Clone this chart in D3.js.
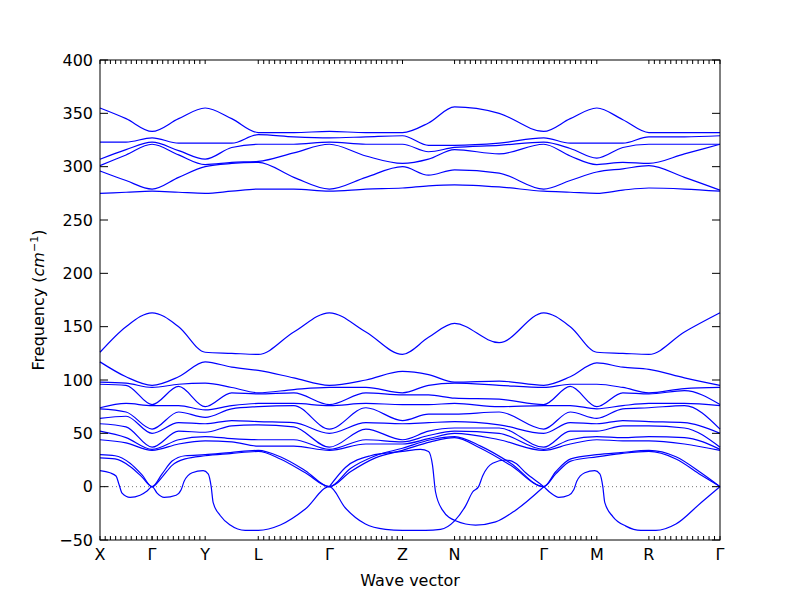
<!DOCTYPE html>
<html>
<head>
<meta charset="utf-8">
<script src="https://cdn.jsdelivr.net/npm/d3@7"></script>
<style>
  body { margin: 0; background: #fff; }
  text { font-family: "DejaVu Sans", sans-serif; }
</style>
</head>
<body>
<svg id="chart" width="800" height="600"></svg>
<script>
// High-symmetry points along the path (path distance)
const kLabels = ['X', 'Γ', 'Y', 'L', 'Γ', 'Z', 'N', 'Γ', 'M', 'R', 'Γ'];
const kTicks = [0, 0.52, 1.05, 1.58, 2.29, 3.02, 3.54, 4.43, 4.96, 5.48, 6.19];
// segments carrying small q-point ticks
const tickedSegments = [0, 1, 3, 4, 6, 7, 9];
const yTicks = [-50, 0, 50, 100, 150, 200, 250, 300, 350, 400];

// sample positions: each high-symmetry point and each segment midpoint
const kSamples = [0, 0.26, 0.52, 0.785, 1.05, 1.315, 1.58, 1.935, 2.29, 2.655, 3.02,
  3.28, 3.54, 3.985, 4.43, 4.695, 4.96, 5.22, 5.48, 5.835, 6.19];

// optical bands (cm^-1), sorted at each sample position
const gammaHigh = [333, 327, 323, 321, 279, 277];
const highBands = [
  [355, 323, 307, 301, 296, 275],
  [345, 323, 316, 311, 287, 276],
  gammaHigh,
  [345, 322, 315, 311, 290, 276],
  [355, 322, 307, 302, 300, 275],
  [345, 322, 318, 304, 303, 277],
  [332, 330, 321, 305, 304, 279],
  [332, 328, 321, 313, 290, 279],
  gammaHigh,
  [332, 328, 321, 310, 290, 279],
  [332, 329, 321, 303, 300, 280],
  [341, 320, 314, 307, 292, 282],
  [356, 320, 318, 316, 297, 283],
  [350, 322, 320, 312, 294, 281],
  gammaHigh,
  [345, 322, 317, 310, 287, 276],
  [355, 322, 308, 302, 295, 275],
  [344, 322, 318, 304, 298, 278],
  [332, 328, 321, 303, 301, 280],
  [332, 328, 321, 312, 290, 279],
  [332, 329, 321, 321, 278, 277]
];
const gammaLow = [163, 95, 93, 77, 76, 54, 50, 37, 35, 34];
const lowBands = [
  [126, 117, 98, 96, 74, 73, 64, 59, 52, 44],
  [150, 103, 97, 95, 78, 70, 66, 56, 46, 41],
  gammaLow,
  [150, 103, 96, 94, 76, 70, 60, 52, 44, 40],
  [126, 117, 97, 75, 72, 65, 59, 51, 47, 43],
  [125, 112, 93, 88, 76, 73, 62, 57, 45, 42],
  [124, 109, 88, 87, 78, 75, 61, 58, 44, 38],
  [145, 102, 91, 88, 78, 76, 60, 56, 44, 38],
  gammaLow,
  [145, 100, 93, 88, 78, 74, 60, 54, 44, 40],
  [124, 108, 88, 86, 77, 62, 59, 44, 42, 40],
  [140, 105, 95, 86, 77, 68, 60, 52, 48, 45],
  [153, 98, 97, 83, 78, 68, 61, 55, 52, 50],
  [135, 99, 95, 82, 75, 70, 58, 55, 50, 44],
  gammaLow,
  [150, 103, 96, 94, 76, 70, 60, 52, 44, 40],
  [126, 116, 96, 75, 73, 64, 59, 52, 47, 44],
  [125, 112, 93, 88, 76, 73, 62, 57, 46, 43],
  [124, 110, 88, 87, 78, 74, 61, 57, 47, 43],
  [145, 102, 92, 90, 78, 76, 60, 55, 46, 40],
  gammaLow
];

// acoustic-like branches traced individually: [k, freq]
const acousticP = [[0, 15], [0.10, 13], [0.16, 10], [0.19, 2], [0.22, -6], [0.30, -10], [0.40, -8],
  [0.47, -4], [0.52, 0], [0.57, -6], [0.64, -10], [0.76, -8], [0.81, -3], [0.84, 5], [0.92, 13],
  [1.03, 15], [1.08, 12], [1.11, 0], [1.13, -15], [1.20, -27], [1.30, -36], [1.45, -41], [1.58, -41],
  [1.80, -36], [2.05, -21], [2.29, 0], [2.45, -20], [2.65, -35], [2.85, -40], [3.02, -41], [3.25, -41],
  [3.40, -40], [3.54, -32], [3.65, -18], [3.72, -5], [3.78, 0], [3.82, 10], [3.92, 22], [4.05, 25],
  [4.15, 22], [4.25, 13], [4.43, 0], [4.50, -6], [4.58, -10], [4.68, -8], [4.73, -3], [4.76, 5],
  [4.84, 13], [4.94, 15], [4.99, 12], [5.02, 0], [5.04, -15], [5.12, -28], [5.25, -37], [5.40, -41],
  [5.55, -41], [5.75, -35], [6.0, -15], [6.19, 0]];
const acousticQ = [[2.29, 0], [2.45, 18], [2.70, 29], [3.02, 33], [3.20, 35], [3.28, 33], [3.32, 20],
  [3.35, -5], [3.42, -22], [3.55, -32], [3.75, -36], [3.95, -33], [4.15, -22], [4.43, 0]];
const acousticR = [[0, 30], [0.15, 29], [0.30, 22], [0.42, 11], [0.52, 0], [0.62, 12], [0.72, 24],
  [0.85, 29], [1.05, 30], [1.30, 32], [1.58, 34], [1.80, 28], [2.05, 15], [2.29, 0], [2.50, 17],
  [2.75, 29], [3.02, 36], [3.30, 44], [3.54, 47], [3.80, 38], [4.10, 22], [4.43, 0], [4.55, 14],
  [4.70, 26], [4.96, 30], [5.20, 32], [5.48, 34], [5.75, 28], [6.0, 13], [6.19, 0]];
const acousticS = [[0, 27], [0.15, 26], [0.30, 19], [0.42, 9], [0.52, 0], [0.62, 9], [0.72, 20],
  [0.85, 26], [1.05, 29], [1.30, 31], [1.58, 33], [1.80, 26], [2.05, 13], [2.29, 0], [2.50, 14],
  [2.75, 27], [3.02, 34], [3.30, 42], [3.54, 46], [3.80, 36], [4.10, 20], [4.43, 0], [4.55, 12],
  [4.70, 24], [4.96, 28], [5.20, 31], [5.48, 33], [5.75, 26], [6.0, 11], [6.19, 0]];

const svg = d3.select('#chart');
const margin = {left: 100, right: 80, top: 60, bottom: 60};
const width = 800 - margin.left - margin.right;
const height = 600 - margin.top - margin.bottom;
const g = svg.append('g').attr('transform', `translate(${margin.left},${margin.top})`);

const x = d3.scaleLinear().domain([0, 6.19]).range([0, width]);
const y = d3.scaleLinear().domain([-50, 400]).range([height, 0]);

const line = d3.line().x(d => x(d[0])).y(d => y(d[1])).curve(d3.curveMonotoneX);

// zero line
g.append('line')
  .attr('x1', 0).attr('x2', width)
  .attr('y1', y(0)).attr('y2', y(0))
  .attr('stroke', '#555').attr('stroke-width', 0.8)
  .attr('stroke-dasharray', '1,3');

const drawSorted = (bands) => {
  const n = bands[0].length;
  for (let b = 0; b < n; b++) {
    const pts = kSamples.map((k, i) => [k, bands[i][b]]);
    g.append('path').attr('d', line(pts))
      .attr('fill', 'none').attr('stroke', '#0000ff').attr('stroke-width', 1.2);
  }
};
drawSorted(highBands);
drawSorted(lowBands);

[acousticP, acousticQ, acousticR, acousticS].forEach(pts => {
  g.append('path').attr('d', line(pts))
    .attr('fill', 'none').attr('stroke', '#0000ff').attr('stroke-width', 1.2);
});

// frame
g.append('rect').attr('width', width).attr('height', height)
  .attr('fill', 'none').attr('stroke', '#000').attr('stroke-width', 1);

// y ticks (left and right, inward)
yTicks.forEach(v => {
  g.append('line').attr('x1', 0).attr('x2', 8).attr('y1', y(v)).attr('y2', y(v)).attr('stroke', '#000');
  g.append('line').attr('x1', width - 8).attr('x2', width).attr('y1', y(v)).attr('y2', y(v)).attr('stroke', '#000');
  g.append('text').attr('x', -7).attr('y', y(v)).attr('dy', '0.35em')
    .attr('text-anchor', 'end').attr('font-size', 16).text(v < 0 ? '\u2212' + Math.abs(v) : v);
});

// q-point ticks
tickedSegments.forEach(s => {
  const a = kTicks[s], b = kTicks[s + 1];
  const n = Math.round((b - a) / 0.053);
  d3.range(n + 1).map(i => a + (b - a) * i / n).forEach(k => {
    g.append('line').attr('x1', x(k)).attr('x2', x(k)).attr('y1', height).attr('y2', height - 4).attr('stroke', '#000');
    g.append('line').attr('x1', x(k)).attr('x2', x(k)).attr('y1', 0).attr('y2', 4).attr('stroke', '#000');
  });
});

// high-symmetry labels
kTicks.forEach((k, i) => {
  g.append('text').attr('x', x(k)).attr('y', height + 20)
    .attr('text-anchor', 'middle').attr('font-size', 16).text(kLabels[i]);
});

g.append('text').attr('x', width / 2).attr('y', height + 46)
  .attr('text-anchor', 'middle').attr('font-size', 16).text('Wave vector');

const yl = g.append('text').attr('transform', `translate(-56,${height / 2}) rotate(-90)`)
  .attr('text-anchor', 'middle').attr('font-size', 16);
yl.append('tspan').text('Frequency (');
yl.append('tspan').attr('font-style', 'italic').text('cm');
yl.append('tspan').attr('font-size', 11).attr('dy', -6).text('\u22121');
yl.append('tspan').attr('dy', 6).text(')');
</script>
</body>
</html>
